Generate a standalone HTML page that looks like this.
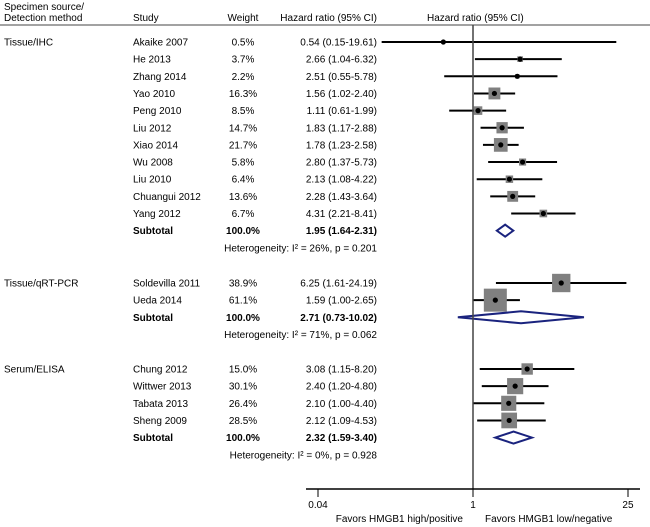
<!DOCTYPE html>
<html><head><meta charset="utf-8"><style>
html,body{margin:0;padding:0;background:#fff;}
svg{display:block;font-family:"Liberation Sans",sans-serif;font-size:10px;}
</style></head><body>
<svg id="chart" width="650" height="527">
<line x1="0" y1="25" x2="650" y2="25" stroke="#444" stroke-width="1"/>
<text x="4" y="10">Specimen source/</text>
<text x="4" y="21">Detection method</text>
<text x="133" y="21">Study</text>
<text x="243" y="21" text-anchor="middle">Weight</text>
<text x="377" y="21" text-anchor="end">Hazard ratio (95% CI)</text>
<text x="427" y="21">Hazard ratio (95% CI)</text>
<g id="rows"></g>
<g id="plot"></g>
</svg>
<script>
const groups=["Tissue/IHC","Tissue/qRT-PCR","Serum/ELISA"];
const studies=["Akaike 2007","He 2013","Zhang 2014","Yao 2010","Peng 2010","Liu 2012","Xiao 2014","Wu 2008","Liu 2010","Chuangui 2012","Yang 2012","Soldevilla 2011","Ueda 2014","Chung 2012","Wittwer 2013","Tabata 2013","Sheng 2009"];
const studyGroup=[0,0,0,0,0,0,0,0,0,0,0,1,1,2,2,2,2];
const weights=[0.5,3.7,2.2,16.3,8.5,14.7,21.7,5.8,6.4,13.6,6.7,38.9,61.1,15.0,30.1,26.4,28.5];
const hr=[0.54,2.66,2.51,1.56,1.11,1.83,1.78,2.80,2.13,2.28,4.31,6.25,1.59,3.08,2.40,2.10,2.12];
const lo=[0.15,1.04,0.55,1.02,0.61,1.17,1.23,1.37,1.08,1.43,2.21,1.61,1.00,1.15,1.20,1.00,1.09];
const hi=[19.61,6.32,5.78,2.40,1.99,2.88,2.58,5.73,4.22,3.64,8.41,24.19,2.65,8.20,4.80,4.40,4.53];
const subHr=[1.95,2.71,2.32];
const subLo=[1.64,0.73,1.59];
const subHi=[2.31,10.02,3.40];
const hetI2=[26,71,0];
const hetP=["0.201","0.062","0.928"];
const tickVals=[0.04,1,25];
const tickLabels=["0.04","1","25"];

const NS="http://www.w3.org/2000/svg";
const rows=document.getElementById('rows'), plot=document.getElementById('plot');
const xs=v=>473+Math.log(v)*48.15;
const f2=v=>v.toFixed(2);
function el(tag,attrs,parent,text){const e=document.createElementNS(NS,tag);for(const k in attrs)e.setAttribute(k,attrs[k]);if(text!==undefined)e.textContent=text;parent.appendChild(e);return e;}
const groupStart=[42,283,369];
const rowH=17.15;
let idx=0;
groups.forEach((g,gi)=>{
  const gt=el('text',{x:4,y:groupStart[gi]+3.5},rows,g);
  
  
  let r=0;
  const maxW=Math.max(...weights.filter((w,i)=>studyGroup[i]===gi));
  for(let i=0;i<studies.length;i++){ if(studyGroup[i]!==gi) continue;
    const y=groupStart[gi]+r*rowH; r++;
    const t1=el('text',{x:133,y:y+3.5},rows,studies[i]);
    
    
    const t2=el('text',{x:243,y:y+3.5,'text-anchor':'middle'},rows,weights[i].toFixed(1)+'%');
    
    
    const t3=el('text',{x:377,y:y+3.5,'text-anchor':'end'},rows,f2(hr[i])+' ('+f2(lo[i])+'-'+f2(hi[i])+')');
    
    
    const ci=el('line',{x1:xs(lo[i]),x2:xs(hi[i]),y1:y,y2:y,stroke:'#000','stroke-width':2},plot);
    
    
    const s=23*Math.sqrt(weights[i]/61.1);
    const bx=el('rect',{x:xs(hr[i])-s/2,y:y-s/2,width:s,height:s,fill:'#808080'},plot);
    
    
    const d=el('circle',{cx:xs(hr[i]),cy:y,r:2.6,fill:'#000'},plot);
    
    
  }
  const y=groupStart[gi]+r*rowH;
  const st=el('text',{x:133,y:y+3.5,'font-weight':'bold'},rows,'Subtotal');
  
  
  const sw=el('text',{x:243,y:y+3.5,'text-anchor':'middle','font-weight':'bold'},rows,'100.0%');
  
  
  const sh=el('text',{x:377,y:y+3.5,'text-anchor':'end','font-weight':'bold'},rows,f2(subHr[gi])+' ('+f2(subLo[gi])+'-'+f2(subHi[gi])+')');
  
  
  const dm=el('polygon',{points:`${xs(subLo[gi])},${y} ${xs(subHr[gi])},${y-6} ${xs(subHi[gi])},${y} ${xs(subHr[gi])},${y+6}`,fill:'#fff',stroke:'#1a237e','stroke-width':2},plot);
  
  
  const ht=el('text',{x:377,y:y+rowH+3.5,'text-anchor':'end'},rows,'Heterogeneity: I² = '+hetI2[gi]+'%, p = '+hetP[gi]);
  
  
});
const vl=el('line',{x1:xs(1),x2:xs(1),y1:25,y2:489,stroke:'#444','stroke-width':1.5},plot);


const ax=el('line',{x1:306,x2:640,y1:489,y2:489,stroke:'#000','stroke-width':1.5},plot);


tickVals.forEach((v,i)=>{
  const tk=el('line',{x1:xs(v),x2:xs(v),y1:489,y2:497,stroke:'#000','stroke-width':1},plot);
  
  
  const tl=el('text',{x:xs(v),y:508,'text-anchor':'middle'},plot,tickLabels[i]);
  
  
});
const fl=el('text',{x:463,y:522,'text-anchor':'end'},plot,'Favors  HMGB1 high/positive');


const fr=el('text',{x:485,y:522},plot,'Favors  HMGB1 low/negative');


</script>
</body></html>
